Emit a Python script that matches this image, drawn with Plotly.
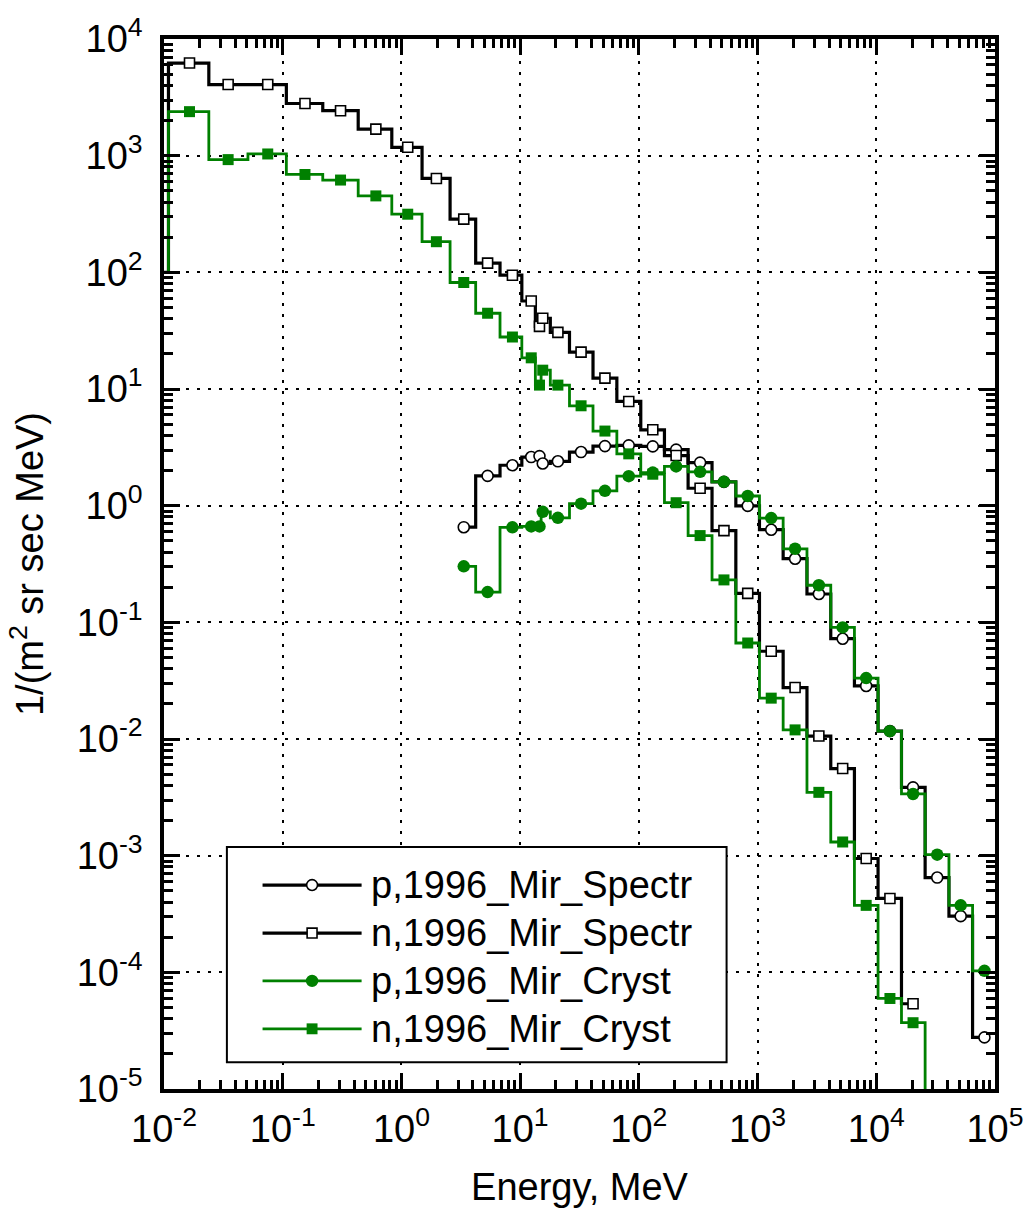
import plotly.graph_objects as go

# ---------------- data ----------------
n_grid_E = [0.00725, 0.0164, 0.0347, 0.0748, 0.154, 0.307, 0.609, 1.13, 1.97,
            3.35, 5.32, 8.61, 12.4, 14.55, 15.5, 20.8, 32.6, 51.8, 82.2, 131,
            206, 328, 521, 826, 1303, 2070, 3283, 5210, 8220, 13030, 20400]

n_spectr_E = n_grid_E
n_spectr_V = [100, 6220, 4070, 4070, 2800, 2430, 1690, 1180, 638,
              286, 120, 94.5, 56.8, 34.4, 40.4, 30.6, 20.7, 12.4, 7.82, 4.47,
              2.69, 1.41, 0.611, 0.177, 0.0565, 0.0276, 0.0106, 0.00558, 9.46e-4, 4.3e-4, 5.38e-5]

n_cryst_E = n_grid_E + [32600]
n_cryst_V = [100, 2384, 925, 1034, 690, 618, 452, 315, 183,
             81.8, 44.6, 27.9, 18.5, 10.8, 14.5, 10.8, 7.18, 4.36, 2.78, 1.86,
             1.06, 0.554, 0.231, 0.0665, 0.0224, 0.01197, 0.00349, 0.00131, 3.75e-4, 5.97e-5, 3.70e-5,
             1e-6]

p_grid_E = [3.35, 5.32, 8.61, 12.4, 14.55, 15.5, 20.8, 32.6, 51.8, 82.2, 131,
            206, 328, 521, 826, 1303, 2070, 3283, 5210, 8220, 13030, 20400,
            32600, 51400, 81500]

p_spectr_E = p_grid_E
p_spectr_V = [0.654, 1.80, 2.22, 2.61, 2.66, 2.30, 2.40, 2.88, 3.24, 3.29, 3.22,
              3.02, 2.34, 1.60, 0.996, 0.622, 0.351, 0.175, 0.0724, 0.0285, 0.0117, 0.00385,
              6.49e-4, 3.03e-4, 2.77e-5]

p_cryst_E = p_grid_E
p_cryst_V = [0.302, 0.1816, 0.652, 0.664, 0.664, 0.885, 0.787, 1.04, 1.34, 1.79, 1.92,
             2.17, 1.95, 1.60, 1.21, 0.783, 0.427, 0.208, 0.0904, 0.0333, 0.01167, 0.00338,
             0.00102, 3.75e-4, 1.03e-4]

series_names = ["p,1996_Mir_Spectr", "n,1996_Mir_Spectr", "p,1996_Mir_Cryst", "n,1996_Mir_Cryst"]

x_tick_vals = [1e-2, 1e-1, 1e0, 1e1, 1e2, 1e3, 1e4, 1e5]
x_tick_text = ["10<sup>-2</sup>", "10<sup>-1</sup>", "10<sup>0</sup>", "10<sup>1</sup>",
               "10<sup>2</sup>", "10<sup>3</sup>", "10<sup>4</sup>", "10<sup>5</sup>"]
y_tick_vals = [1e-5, 1e-4, 1e-3, 1e-2, 1e-1, 1e0, 1e1, 1e2, 1e3, 1e4]
y_tick_text = ["10<sup>-5</sup>", "10<sup>-4</sup>", "10<sup>-3</sup>", "10<sup>-2</sup>",
               "10<sup>-1</sup>", "10<sup>0</sup>", "10<sup>1</sup>", "10<sup>2</sup>",
               "10<sup>3</sup>", "10<sup>4</sup>"]

# ---------------- styles ----------------
BLACK = "black"
GREEN = "#008000"
FONT = "Arial, Liberation Sans, sans-serif"
FS = 38

W, H = 1036, 1227
ML, MR, MT, MB = 164, 33, 30, 138
PW, PH = W - ML - MR, H - MT - MB


def px_x(p):
    return (p - ML) / PW


def px_y(p):
    return (H - MB - p) / PH


styles = [
    dict(line=dict(color=BLACK, width=3.2), marker=dict(symbol="circle", size=11, color="white",
                                                         line=dict(color=BLACK, width=1.6))),
    dict(line=dict(color=BLACK, width=3.2), marker=dict(symbol="square", size=10, color="white",
                                                         line=dict(color=BLACK, width=1.6))),
    dict(line=dict(color=GREEN, width=2.8), marker=dict(symbol="circle", size=12.5, color=GREEN,
                                                         line=dict(width=0))),
    dict(line=dict(color=GREEN, width=2.8), marker=dict(symbol="square", size=11, color=GREEN,
                                                         line=dict(width=0))),
]
data = [(p_spectr_E, p_spectr_V), (n_spectr_E, n_spectr_V), (p_cryst_E, p_cryst_V), (n_cryst_E, n_cryst_V)]

fig = go.Figure()
for (xs, ys), name, st in zip(data, series_names, styles):
    fig.add_trace(go.Scatter(
        x=xs, y=ys, name=name, mode="lines+markers",
        line=dict(shape="hvh", simplify=False, **st["line"]),
        marker=st["marker"], showlegend=False,
    ))

minor_x = [k * 10 ** n for n in range(-2, 5) for k in range(2, 10)]
minor_y = [k * 10 ** n for n in range(-5, 4) for k in range(2, 10)]

axis_common = dict(
    type="log", showline=True, linewidth=3.5, linecolor=BLACK, mirror="allticks",
    ticks="inside", ticklen=16, tickwidth=2.5, tickcolor=BLACK,
    showgrid=True, gridcolor=BLACK, gridwidth=2, griddash="3px,8px",
    zeroline=False, tickfont=dict(family=FONT, size=FS, color=BLACK),
)

fig.update_xaxes(
    range=[-2, 5], tickmode="array", tickvals=x_tick_vals, ticktext=x_tick_text,
    minor=dict(tickmode="array", tickvals=minor_x, ticks="inside", ticklen=9, tickwidth=2.5,
               tickcolor=BLACK, showgrid=False),
    title=dict(text="Energy, MeV", font=dict(family=FONT, size=FS, color=BLACK), standoff=25),
    ticklabelstandoff=4,
    **axis_common,
)
fig.update_yaxes(
    range=[-5, 4], tickmode="array", tickvals=y_tick_vals, ticktext=y_tick_text,
    minor=dict(tickmode="array", tickvals=minor_y, ticks="inside", ticklen=9, tickwidth=2.5,
               tickcolor=BLACK, showgrid=False),
    title=dict(text="1/(m<sup>2</sup> sr sec MeV)", font=dict(family=FONT, size=FS, color=BLACK),
               standoff=22),
    ticklabelstandoff=10,
    **axis_common,
)

# ---------------- manual legend ----------------
shapes = []
annotations = []
box = dict(x0=227.5, x1=732, y0=845, y1=1062)
shapes.append(dict(type="rect", xref="paper", yref="paper", layer="above",
                   x0=px_x(box["x0"]), x1=px_x(box["x1"]), y0=px_y(box["y1"]), y1=px_y(box["y0"]),
                   line=dict(color=BLACK, width=2), fillcolor="white"))
row_y = [883.3, 931.7, 980, 1028.3]
line_x0, line_x1, mark_x, text_x = 263.5, 363.5, 313.5, 371
for i, (name, st) in enumerate(zip(series_names, styles)):
    yy = row_y[i]
    shapes.append(dict(type="line", xref="paper", yref="paper", layer="above",
                       x0=px_x(line_x0), x1=px_x(line_x1), y0=px_y(yy), y1=px_y(yy),
                       line=dict(color=st["line"]["color"], width=st["line"]["width"])))
    m = st["marker"]
    r = m["size"] / 2
    fill = m["color"]
    lc = m["line"].get("color", fill)
    lw = m["line"].get("width", 0)
    shapes.append(dict(type="circle" if m["symbol"] == "circle" else "rect",
                       xref="paper", yref="paper", layer="above",
                       x0=px_x(mark_x - r), x1=px_x(mark_x + r), y0=px_y(yy + r), y1=px_y(yy - r),
                       fillcolor=fill, line=dict(color=lc, width=lw)))
    annotations.append(dict(text=name, xref="paper", yref="paper", x=px_x(text_x), y=px_y(yy),
                            xanchor="left", yanchor="middle", showarrow=False,
                            font=dict(family=FONT, size=FS, color=BLACK)))

fig.update_layout(
    width=W, height=H, margin=dict(l=ML, r=MR, t=MT, b=MB),
    paper_bgcolor="white", plot_bgcolor="white",
    shapes=shapes, annotations=annotations, showlegend=False,
    font=dict(family=FONT, size=FS, color=BLACK),
)

fig.write_html("out.html")
